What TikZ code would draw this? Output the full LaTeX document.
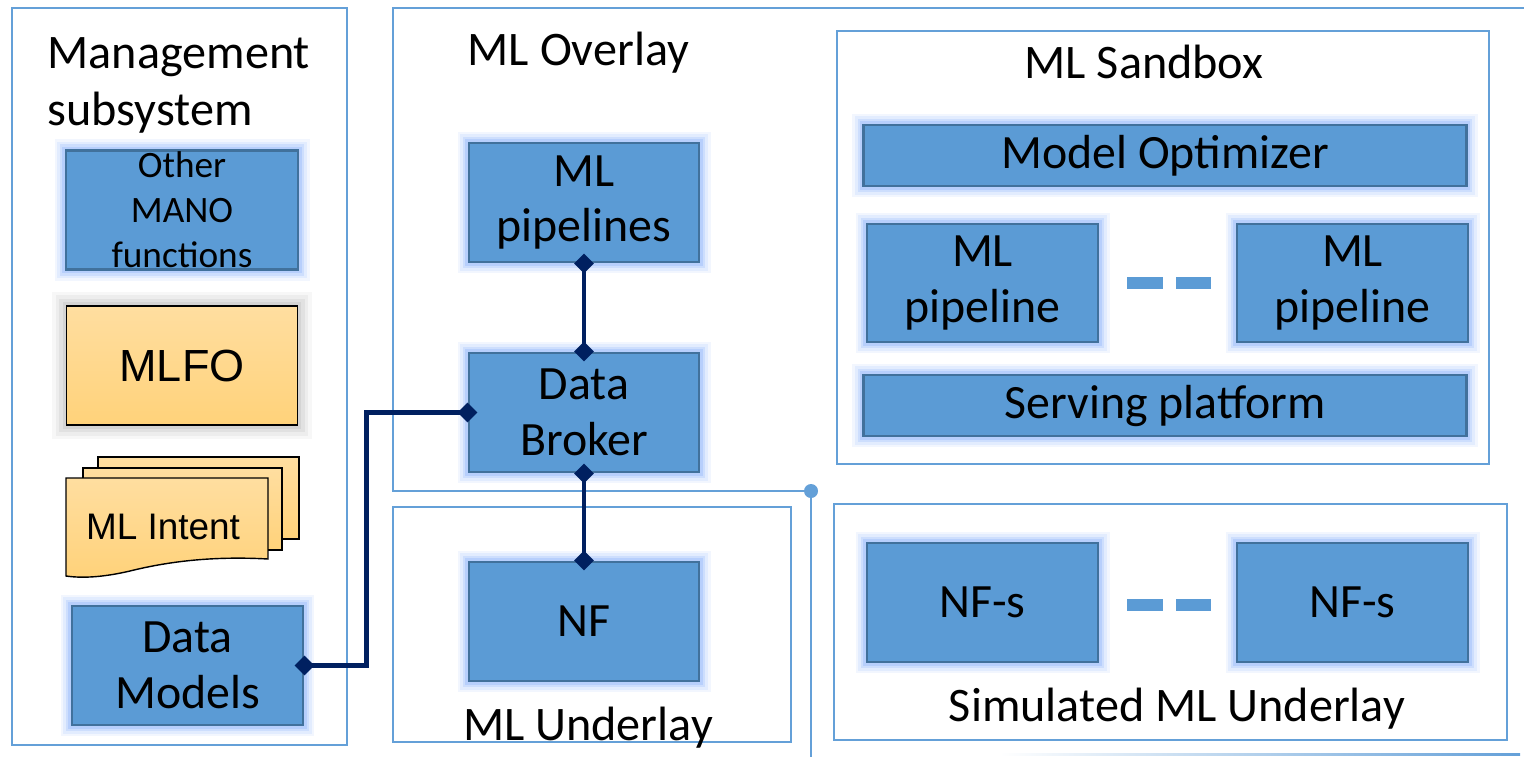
\documentclass[tikz,border=0pt]{standalone}
\usepackage{fontspec}
\setmainfont{Carlito}
\newfontfamily\arialfont{Liberation Sans}
\usetikzlibrary{arrows.meta}
\definecolor{boxfill}{RGB}{91,155,213}
\definecolor{boxedge}{RGB}{65,113,156}
\definecolor{frameblue}{RGB}{100,160,216}
\definecolor{glowblue}{RGB}{150,185,250}
\definecolor{linkblue}{RGB}{0,32,96}
\definecolor{orangetop}{RGB}{255,222,160}
\definecolor{orangebot}{RGB}{255,210,122}
\begin{document}
\begin{tikzpicture}[x=0.01cm,y=-0.01cm,
    frame/.style={draw=frameblue,line width=0.7pt},
    title/.style={inner sep=0pt,font=\fontsize{13.7}{16.2}\selectfont},
    glow/.style={preaction={draw=glowblue,line width=6.5pt,opacity=.12},
      preaction={draw=glowblue,line width=5pt,opacity=.18},
      preaction={draw=glowblue,line width=3.5pt,opacity=.28},
      preaction={draw=glowblue,line width=2pt,opacity=.4}},
    block/.style={draw=boxedge,fill=boxfill,line width=0.8pt,inner sep=0pt,
      minimum width=2.31cm,minimum height=1.19cm,align=center,
      font=\fontsize{13.6}{15.8}\selectfont,glow},
    wide/.style={block,minimum width=6.02cm,minimum height=0.61cm},
    sheet/.style={draw=black,line width=0.4pt,top color=orangetop,bottom color=orangebot},
    link/.style={draw=linkblue,line width=1.4pt,
      {Diamond[length=5.6pt,width=5.6pt]}-{Diamond[length=5.6pt,width=5.6pt]},
      shorten <=-2.8pt,shorten >=-2.8pt}]
  \useasboundingbox (0,0) rectangle (1524,757);

  % containers
  \draw[frame] (12,8) rectangle (347,745);
  \draw[frame] (1524,8) -- (393,8) -- (393,491) -- (811,491);
  \fill[frameblue] (811,491) circle (7);
  \draw[frameblue,line width=0.4pt] (811,491) -- (811,757);
  \shade[left color=white,right color=frameblue] (1000,753) rectangle (1520,755);
  \draw[frame] (393,507) rectangle (791,742);
  \draw[frame] (837,31) rectangle (1489,464);
  \draw[frame] (834,504) rectangle (1507,740);

  \node[title,anchor=north west,align=left] (mgmt) at (47,37) {Management\\subsystem};
  \node[title,anchor=base west] (overlay) at (467,65) {ML Overlay};
  \node[title,anchor=base] (sandbox) at (1144,78) {ML Sandbox};
  \node[title,anchor=base] (underlay) at (588,740) {ML Underlay};
  \node[title,anchor=base] (simunder) at (1177,721) {Simulated ML Underlay};

  % management subsystem
  \node[block,minimum width=2.32cm,font=\fontsize{10.6}{12.8}\selectfont] (mano) at (182,210) {Other\\MANO\\functions};
  \node[sheet,minimum width=2.31cm,minimum height=1.19cm,inner sep=0pt,
    font=\arialfont\fontsize{12.8}{14}\selectfont,
    preaction={draw=black,line width=8pt,opacity=.03},
    preaction={draw=black,line width=6pt,opacity=.04},
    preaction={draw=black,line width=4pt,opacity=.05},
    preaction={draw=black,line width=2pt,opacity=.06}] (mlfo) at (182,365.5) {MLFO};
  \draw[sheet] (98,457) rectangle (299,539);
  \draw[sheet] (83,468) rectangle (282,550);
  \draw[sheet] (66,478) -- (268,478) -- (268,559)
    .. controls (215,556) and (170,561) .. (130,571)
    .. controls (100,578) and (80,578) .. (66,576) -- cycle;
  \node[inner sep=0pt,font=\arialfont\fontsize{10.5}{12}\selectfont] (intent) at (163,527) {ML Intent};
  \node[block] (models) at (187.5,665.5) {Data\\Models};

  % overlay and underlay
  \node[block,minimum width=2.30cm] (pipes) at (584,202.5) {ML\\pipelines};
  \node[block,minimum width=2.30cm] (broker) at (584,412.5) {Data\\Broker};
  \node[block,minimum width=2.30cm] (nf) at (584,621.5) {NF};

  % sandbox
  \node[wide] (optim) at (1165,155.5) {Model Optimizer};
  \node[block,minimum height=1.18cm] (pipeA) at (982.5,283) {ML\\pipeline};
  \node[block,minimum height=1.18cm] (pipeB) at (1352.5,283) {ML\\pipeline};
  \node[wide] (serving) at (1165,405.5) {Serving platform};

  % simulated underlay
  \node[block] (nfsA) at (982.5,602.5) {NF-s};
  \node[block] (nfsB) at (1352.5,602.5) {NF-s};

  \foreach \y in {283,605} {
    \fill[boxfill] (1127,\y-6) rectangle (1163,\y+6);
    \fill[boxfill] (1176,\y-6) rectangle (1211,\y+6);
  }

  \draw[link] (pipes.south) -- (broker.north);
  \draw[link] (broker.south) -- (nf.north);
  \draw[link] (models.east) -- ++(62,0) |- (broker.west);
\end{tikzpicture}
\end{document}
